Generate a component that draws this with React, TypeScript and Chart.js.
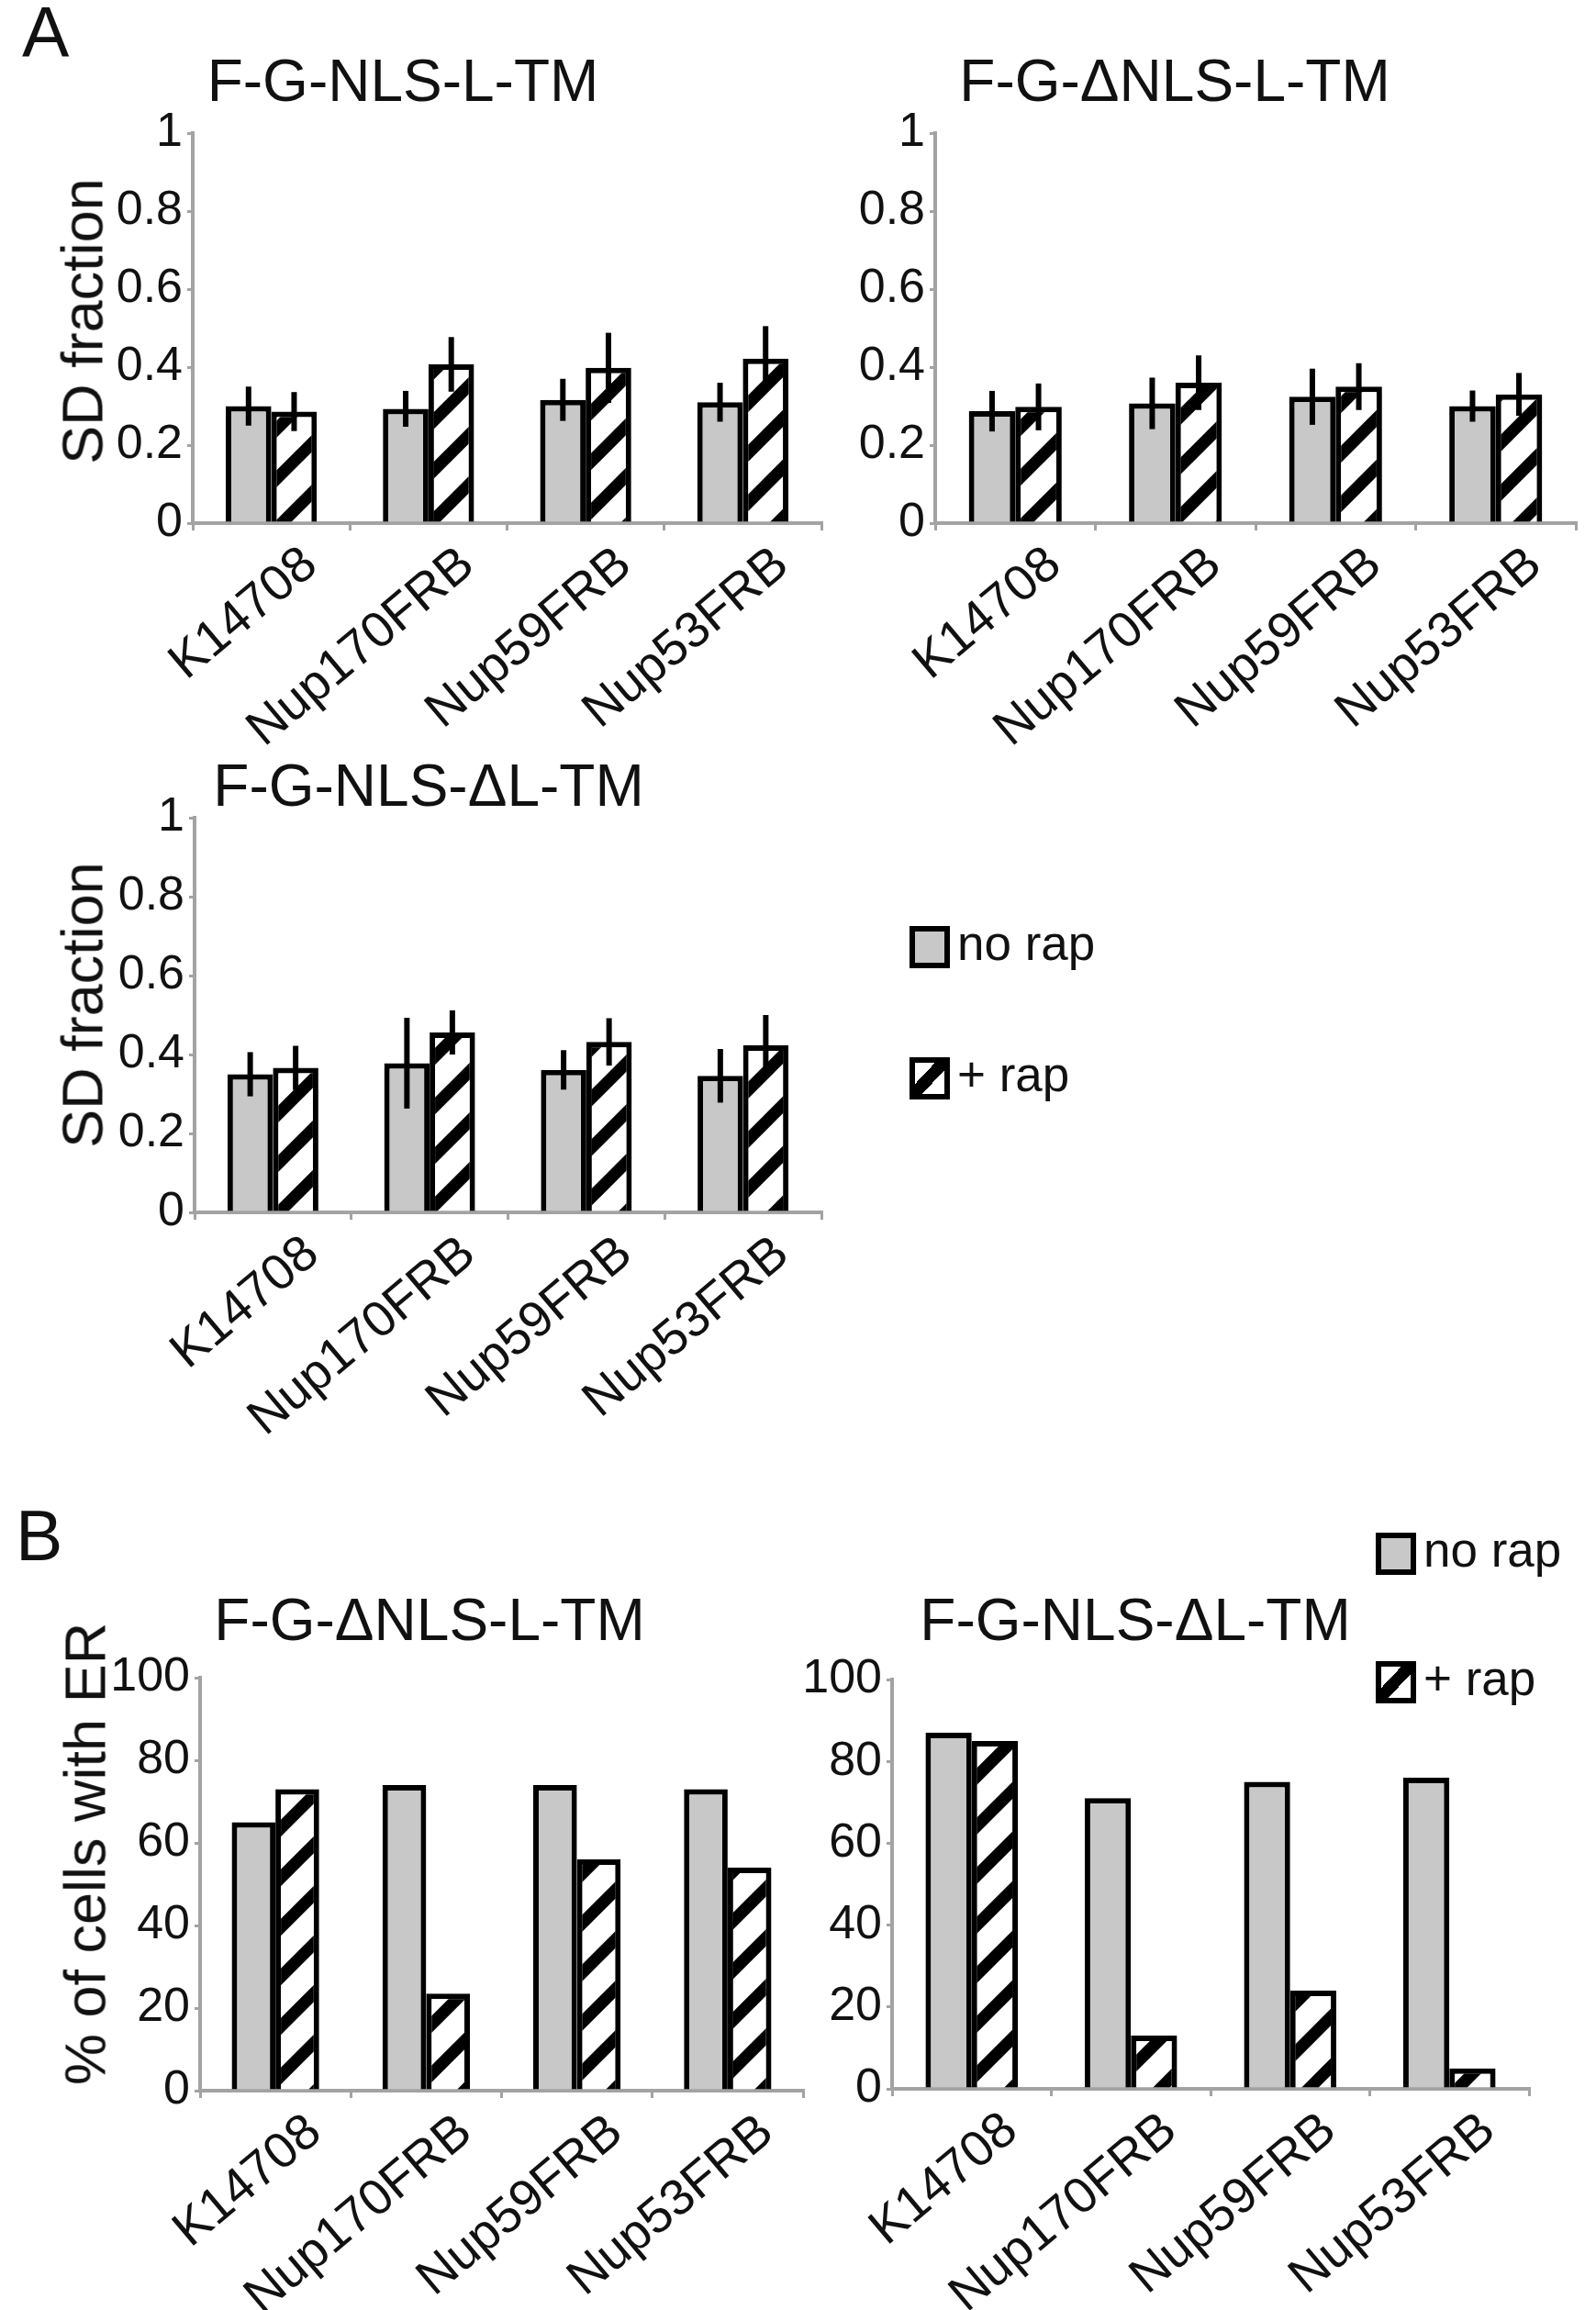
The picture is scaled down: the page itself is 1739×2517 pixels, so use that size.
import React, { useEffect, useRef } from "react";
import { Chart, registerables } from "chart.js";

Chart.register(...registerables);

const FONT = "'Liberation Sans', Arial, Helvetica, sans-serif";
Chart.defaults.font.family = FONT;

// ---------- data ----------
const categories = ["K14708", "Nup170FRB", "Nup59FRB", "Nup53FRB"];
const seriesNames = ["no rap", "+ rap"];
const sdTickValues = [0, 0.2, 0.4, 0.6, 0.8, 1];
const sdTickLabels = ["0", "0.2", "0.4", "0.6", "0.8", "1"];
const pctTickValues = [0, 20, 40, 60, 80, 100];
const pctTickLabels = ["0", "20", "40", "60", "80", "100"];

const panelLetters = ["A", "B"];
const chartTitles = ["F-G-NLS-L-TM", "F-G-\u0394NLS-L-TM", "F-G-NLS-\u0394L-TM", "F-G-\u0394NLS-L-TM", "F-G-NLS-\u0394L-TM"];
const yTitles = ["SD fraction", "% of cells with ER"];

// Panel A – chart 1 (F-G-NLS-L-TM)
const a1NoRap = [0.3, 0.293, 0.316, 0.31];
const a1NoRapErr = [0.05, 0.046, 0.054, 0.05];
const a1Rap = [0.286, 0.407, 0.398, 0.422];
const a1RapErr = [0.05, 0.07, 0.09, 0.083];

// Panel A – chart 2 (F-G-ΔNLS-L-TM)
const a2NoRap = [0.287, 0.307, 0.324, 0.3];
const a2NoRapErr = [0.052, 0.066, 0.072, 0.04];
const a2Rap = [0.298, 0.36, 0.35, 0.33];
const a2RapErr = [0.06, 0.07, 0.06, 0.055];

// Panel A – chart 3 (F-G-NLS-ΔL-TM)
const a3NoRap = [0.35, 0.378, 0.361, 0.346];
const a3NoRapErr = [0.056, 0.115, 0.05, 0.068];
const a3Rap = [0.366, 0.456, 0.432, 0.423];
const a3RapErr = [0.056, 0.056, 0.06, 0.077];

// Panel B – chart 4 (F-G-ΔNLS-L-TM)
const b1NoRap = [65, 74, 74, 73];
const b1Rap = [73, 23.5, 56, 54];

// Panel B – chart 5 (F-G-NLS-ΔL-TM)
const b2NoRap = [87, 71, 75, 76];
const b2Rap = [85, 13, 24, 5];

// ---------- styles ----------
const GREY_FILL = "#c8c8c8";
const AXIS_GREY = "#a3a3a3";

function makeHatch(): CanvasPattern | string {
  const P = 54;
  const t = document.createElement("canvas");
  t.width = P;
  t.height = P;
  const c = t.getContext("2d");
  if (!c) return "#fff";
  c.fillStyle = "#fff";
  c.fillRect(0, 0, P, P);
  c.strokeStyle = "#000";
  c.lineWidth = 13;
  for (const k of [0, P, 2 * P]) {
    c.beginPath();
    c.moveTo(-10, k + 10);
    c.lineTo(P + 10, k - P - 10);
    c.stroke();
  }
  return c.createPattern(t, "repeat") || "#fff";
}

const errorBarPlugin = {
  id: "errorBars",
  afterDatasetsDraw(chart: any) {
    const ctx = chart.ctx;
    const yScale = chart.scales.y;
    chart.data.datasets.forEach((ds: any, i: number) => {
      if (!ds.errors) return;
      const meta = chart.getDatasetMeta(i);
      meta.data.forEach((bar: any, j: number) => {
        const v = ds.data[j];
        const e = ds.errors[j];
        ctx.save();
        ctx.strokeStyle = "#000";
        ctx.lineWidth = 6;
        ctx.beginPath();
        ctx.moveTo(bar.x, yScale.getPixelForValue(v + e));
        ctx.lineTo(bar.x, yScale.getPixelForValue(v - e));
        ctx.stroke();
        ctx.restore();
      });
    });
  },
};

type ChartBox = {
  areaLeft: number;
  areaRight: number;
  areaTop: number;
  areaBottom: number;
  yMax: number;
  tickValues: number[];
  tickLabels: string[];
  noRap: number[];
  rap: number[];
  noRapErr?: number[];
  rapErr?: number[];
};

const Y_AXIS_W = 130;
const PAD_TOP = 50;
const PAD_RIGHT = 20;
const X_AXIS_H = 262;

function BarChart(props: ChartBox) {
  const ref = useRef<HTMLCanvasElement>(null);
  const left = props.areaLeft - Y_AXIS_W;
  const top = props.areaTop - PAD_TOP;
  const width = props.areaRight - left + PAD_RIGHT;
  const height = props.areaBottom - top + X_AXIS_H;

  useEffect(() => {
    const canvas = ref.current;
    if (!canvas) return;
    const hatch = makeHatch();
    const chart = new Chart(canvas, {
      type: "bar",
      data: {
        labels: categories,
        datasets: [
          {
            label: seriesNames[0],
            data: props.noRap,
            errors: props.noRapErr,
            backgroundColor: GREY_FILL,
            borderColor: "#000",
            borderWidth: 6,
            barPercentage: 1,
            categoryPercentage: 0.58,
          } as any,
          {
            label: seriesNames[1],
            data: props.rap,
            errors: props.rapErr,
            backgroundColor: hatch,
            borderColor: "#000",
            borderWidth: 6,
            barPercentage: 1,
            categoryPercentage: 0.58,
          } as any,
        ],
      },
      options: {
        responsive: false,
        animation: false,
        events: [],
        layout: { padding: { left: 0, right: PAD_RIGHT, top: PAD_TOP, bottom: 0 } },
        plugins: {
          legend: { display: false },
          title: { display: false },
          tooltip: { enabled: false },
        },
        scales: {
          x: {
            type: "category",
            grid: {
              display: true,
              drawOnChartArea: false,
              drawTicks: true,
              tickLength: 8,
              color: AXIS_GREY,
              lineWidth: 3,
              offset: true,
            },
            border: { display: true, color: AXIS_GREY, width: 4 },
            ticks: {
              autoSkip: false,
              minRotation: 40,
              maxRotation: 40,
              labelOffset: 43,
              padding: 5,
              color: "#111",
              font: { size: 55, family: FONT },
            },
            afterFit: (scale: any) => {
              scale.height = X_AXIS_H;
            },
          },
          y: {
            min: 0,
            max: props.yMax,
            afterBuildTicks: (axis: any) => {
              axis.ticks = props.tickValues.map((v) => ({ value: v }));
            },
            grid: {
              display: true,
              drawOnChartArea: false,
              drawTicks: true,
              tickLength: 6,
              color: AXIS_GREY,
              lineWidth: 3,
            },
            border: { display: true, color: AXIS_GREY, width: 4 },
            ticks: {
              padding: 5,
              color: "#111",
              font: { size: 52, family: FONT },
              callback: (_v: any, index: number) => props.tickLabels[index],
            },
            afterFit: (scale: any) => {
              scale.width = Y_AXIS_W;
            },
          },
        },
      },
      plugins: [errorBarPlugin],
    } as any);
    return () => chart.destroy();
  }, []);

  return (
    <canvas
      ref={ref}
      width={width}
      height={height}
      style={{ position: "absolute", left, top, width, height }}
    />
  );
}

const textBase: React.CSSProperties = {
  position: "absolute",
  fontFamily: FONT,
  color: "#111",
  whiteSpace: "nowrap",
};

function Title({ text, cx, baseline }: { text: string; cx: number; baseline: number }) {
  return (
    <div
      style={{
        ...textBase,
        left: cx,
        top: baseline - 54,
        fontSize: 64,
        lineHeight: "64px",
        transform: "translateX(-50%)",
      }}
    >
      {text}
    </div>
  );
}

function YTitle({ text, cx, cy }: { text: string; cx: number; cy: number }) {
  return (
    <div
      style={{
        ...textBase,
        left: cx,
        top: cy,
        fontSize: 63,
        lineHeight: "63px",
        transform: "translate(-50%, -50%) rotate(-90deg)",
      }}
    >
      {text}
    </div>
  );
}

function LegendItem({ x, y, hatched, text }: { x: number; y: number; hatched: boolean; text: string }) {
  return (
    <>
      <div
        style={{
          position: "absolute",
          left: x,
          top: y,
          width: 44,
          height: 46,
          boxSizing: "border-box",
          border: "6px solid #000",
          background: hatched
            ? "linear-gradient(to bottom right, #fff 34%, #000 34%, #000 62%, #fff 62%)"
            : GREY_FILL,
        }}
      />
      <div
        style={{
          ...textBase,
          left: x + 52,
          top: y + 23 - 31,
          fontSize: 53,
          lineHeight: "53px",
        }}
      >
        {text}
      </div>
    </>
  );
}

export default function App() {
  return (
    <div
      style={{
        position: "absolute",
        left: 0,
        top: 0,
        width: 1739,
        height: 2517,
        background: "#fff",
        overflow: "hidden",
      }}
    >
      <BarChart areaLeft={210} areaRight={895} areaTop={145} areaBottom={570} yMax={1}
        tickValues={sdTickValues} tickLabels={sdTickLabels}
        noRap={a1NoRap} rap={a1Rap} noRapErr={a1NoRapErr} rapErr={a1RapErr} />
      <BarChart areaLeft={1019} areaRight={1717} areaTop={145} areaBottom={570} yMax={1}
        tickValues={sdTickValues} tickLabels={sdTickLabels}
        noRap={a2NoRap} rap={a2Rap} noRapErr={a2NoRapErr} rapErr={a2RapErr} />
      <BarChart areaLeft={212} areaRight={895} areaTop={891} areaBottom={1321} yMax={1}
        tickValues={sdTickValues} tickLabels={sdTickLabels}
        noRap={a3NoRap} rap={a3Rap} noRapErr={a3NoRapErr} rapErr={a3RapErr} />
      <BarChart areaLeft={218} areaRight={875} areaTop={1828} areaBottom={2278} yMax={100}
        tickValues={pctTickValues} tickLabels={pctTickLabels}
        noRap={b1NoRap} rap={b1Rap} />
      <BarChart areaLeft={972} areaRight={1666} areaTop={1830} areaBottom={2276} yMax={100}
        tickValues={pctTickValues} tickLabels={pctTickLabels}
        noRap={b2NoRap} rap={b2Rap} />

      <div style={{ ...textBase, left: 24, top: -3, fontSize: 77, lineHeight: "77px" }}>{panelLetters[0]}</div>
      <div style={{ ...textBase, left: 17, top: 1635, fontSize: 77, lineHeight: "77px" }}>{panelLetters[1]}</div>

      <Title text={chartTitles[0]} cx={439} baseline={110} />
      <Title text={chartTitles[1]} cx={1280} baseline={110} />
      <Title text={chartTitles[2]} cx={467} baseline={878} />
      <Title text={chartTitles[3]} cx={468} baseline={1787} />
      <Title text={chartTitles[4]} cx={1237} baseline={1787} />

      <YTitle text={yTitles[0]} cx={90} cy={350} />
      <YTitle text={yTitles[0]} cx={90} cy={1095} />
      <YTitle text={yTitles[1]} cx={93} cy={2020} />

      <LegendItem x={991} y={1009} hatched={false} text={seriesNames[0]} />
      <LegendItem x={991} y={1152} hatched={true} text={seriesNames[1]} />
      <LegendItem x={1499} y={1670} hatched={false} text={seriesNames[0]} />
      <LegendItem x={1499} y={1810} hatched={true} text={seriesNames[1]} />
    </div>
  );
}
